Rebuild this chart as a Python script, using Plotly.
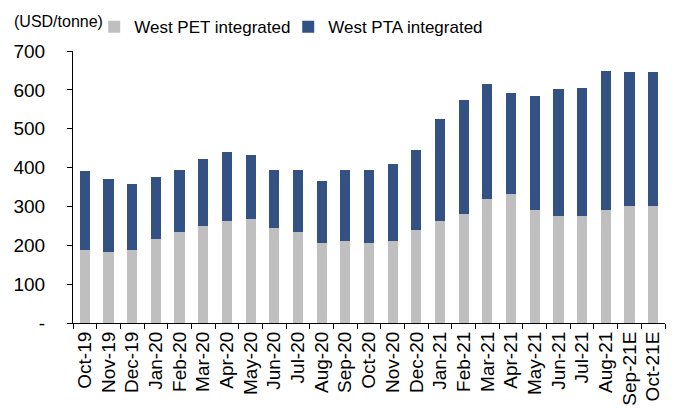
import plotly.graph_objects as go

categories = ["Oct-19", "Nov-19", "Dec-19", "Jan-20", "Feb-20", "Mar-20", "Apr-20", "May-20",
              "Jun-20", "Jul-20", "Aug-20", "Sep-20", "Oct-20", "Nov-20", "Dec-20", "Jan-21",
              "Feb-21", "Mar-21", "Apr-21", "May-21", "Jun-21", "Jul-21", "Aug-21", "Sep-21E", "Oct-21E"]
pet = [189, 183, 188, 216, 234, 249, 262, 267, 244, 235, 207, 212, 206, 212, 239, 262,
       281, 319, 333, 291, 276, 276, 291, 300, 300]
total = [390, 370, 357, 375, 393, 422, 441, 432, 393, 393, 366, 394, 394, 408, 446, 525,
         573, 615, 591, 583, 601, 606, 649, 645, 645]
pta = [t - p for t, p in zip(total, pet)]

y_ticks = [0, 100, 200, 300, 400, 500, 600, 700]
y_ticktext = ["-", "100", "200", "300", "400", "500", "600", "700"]

font = "Liberation Sans, Arial, sans-serif"

fig = go.Figure()
fig.add_trace(go.Bar(x=categories, y=pet, name="West PET integrated",
                     marker=dict(color="#BFBFBF", line=dict(width=0))))
fig.add_trace(go.Bar(x=categories, y=pta, name="West PTA integrated",
                     marker=dict(color="#335183", line=dict(width=0))))

fig.update_layout(
    barmode="stack",
    bargap=0.57,
    width=673, height=412,
    margin=dict(l=73, r=8, t=51, b=89, autoexpand=False),
    paper_bgcolor="white", plot_bgcolor="white",
    font=dict(family=font, size=17, color="black"),
    showlegend=True,
    legend=dict(orientation="h", xref="container", yref="container",
                x=0.140, xanchor="left", y=0.934, yanchor="middle",
                font=dict(size=17), traceorder="normal",
                itemwidth=30, entrywidth=149, entrywidthmode="pixels",
                bgcolor="rgba(0,0,0,0)"),
    annotations=[dict(text="(USD/tonne)", xref="paper", yref="paper",
                      x=-0.103, xanchor="left", y=1.11, yanchor="middle",
                      showarrow=False, font=dict(size=16))],
)

fig.update_xaxes(type="category", tickangle=-90, tickfont=dict(size=19),
                 showline=True, linecolor="black", linewidth=1.2,
                 ticks="outside", ticklen=5, tickcolor="black", tickson="boundaries",
                 showgrid=False)
fig.update_yaxes(range=[0, 700], tickvals=y_ticks, ticktext=y_ticktext,
                 showline=True, linecolor="black", linewidth=1.2,
                 ticks="outside", ticklen=5, tickcolor="black",
                 showgrid=False, zeroline=False, tickfont=dict(size=19), ticklabelstandoff=18)

fig.write_html("out.html", config={"displayModeBar": False},
               post_script="document.body.style.margin='0';document.body.style.overflow='hidden';")
